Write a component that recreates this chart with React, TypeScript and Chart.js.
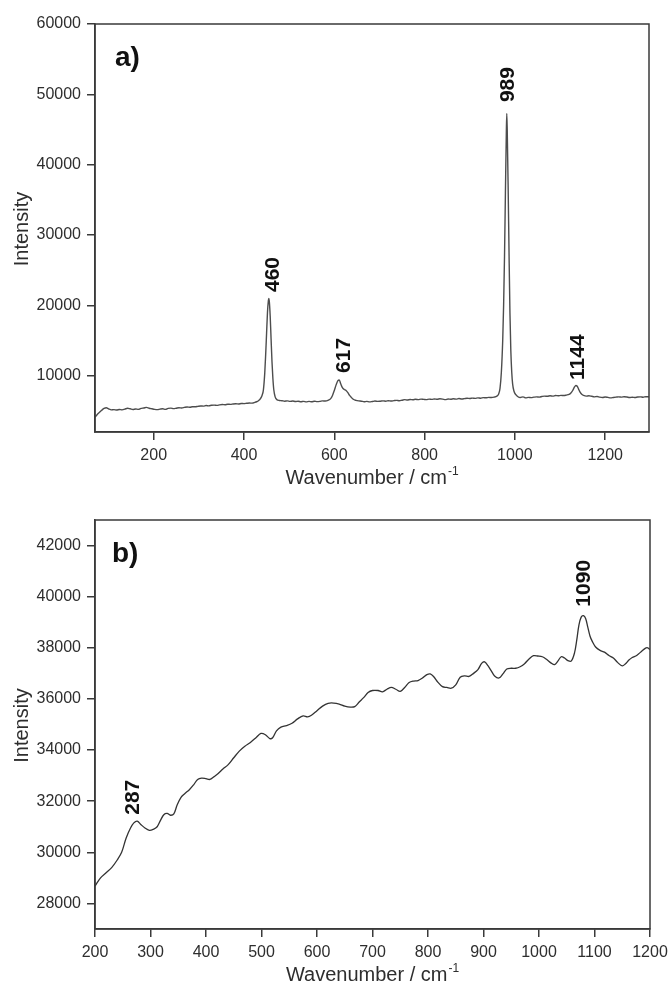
import React, { useEffect, useRef } from "react";
import { Chart, registerables } from "chart.js";

Chart.register(...registerables);

const FONT = "'Liberation Sans', Arial, Helvetica, sans-serif";
const AXIS = "#3a3a3a";
const TEXT = "#2e2e2e";

// ---------------- Panel a ----------------
const waveA = [
  70, 75, 80, 85, 90, 95, 100, 106, 112, 118, 124, 130, 136, 142, 148, 154, 160, 166, 172, 178,
  184, 190, 196, 202, 208, 214, 220, 226, 232, 238, 244, 250, 256, 262, 268, 274, 280, 286, 292, 298,
  304, 310, 316, 322, 328, 334, 340, 346, 352, 358, 364, 370, 376, 382, 388, 394, 400, 406, 412, 418,
  424, 428, 432, 436, 440, 443, 446, 448, 450, 452, 454, 455, 456, 458, 460, 462, 464, 466, 469, 473,
  478, 484, 490, 496, 502, 508, 514, 520, 526, 532, 538, 544, 550, 556, 562, 568, 574, 580, 586, 592, 596,
  600, 604, 608, 611, 614, 618, 622, 626, 630, 634, 638, 642, 648, 654, 660, 666, 672, 678, 684, 690,
  696, 702, 708, 714, 720, 726, 732, 738, 744, 750, 756, 762, 768, 774, 780, 786, 792, 798, 804, 810,
  816, 822, 828, 834, 840, 846, 852, 858, 864, 870, 876, 882, 888, 894, 900, 906, 912, 918, 924, 930,
  936, 942, 948, 954, 960, 964, 967, 970, 973, 975, 977, 979, 981, 982, 983, 985, 987, 989, 991, 993,
  995, 998, 1002, 1006, 1012, 1018, 1024, 1030, 1036, 1042, 1048, 1054, 1060, 1066, 1072, 1078, 1084, 1090, 1096, 1102,
  1108, 1114, 1120, 1124, 1128, 1132, 1135, 1138, 1141, 1144, 1148, 1152, 1158, 1164, 1170, 1176, 1182, 1188, 1194, 1200,
  1206, 1212, 1218, 1224, 1230, 1236, 1242, 1248, 1254, 1260, 1266, 1272, 1278, 1284, 1290, 1297,
];
const intA = [
  4100, 4500, 4800, 5100, 5350, 5450, 5300, 5150, 5180, 5120, 5200, 5150, 5250, 5380, 5300, 5200, 5280, 5220, 5350, 5420,
  5500, 5380, 5300, 5220, 5180, 5250, 5300, 5220, 5350, 5400, 5320, 5380, 5450, 5420, 5500, 5560, 5520, 5600, 5580, 5650,
  5700, 5680, 5760, 5720, 5800, 5820, 5780, 5860, 5900, 5880, 5950, 5920, 5990, 6020, 5980, 6060, 6040, 6080, 6120, 6100,
  6200, 6300, 6450, 6700, 7200, 8000, 10400, 13000, 16000, 19000, 20700, 21000, 20600, 18500, 15200, 12000, 9600, 8000, 7000, 6600,
  6480, 6450, 6380, 6420, 6350, 6400, 6330, 6380, 6300, 6360, 6280, 6350, 6300, 6380, 6320, 6350, 6420, 6400, 6500, 6750, 7200,
  7900, 8700, 9300, 9400, 8900, 8300, 8050, 7900, 7600, 7200, 6900, 6650, 6500, 6420, 6380, 6300, 6350, 6280, 6330, 6400,
  6350, 6380, 6420, 6380, 6450, 6400, 6460, 6500, 6440, 6520, 6600, 6550, 6620, 6580, 6650, 6600, 6680, 6640, 6600, 6680,
  6640, 6700, 6650, 6720, 6680, 6600, 6700, 6660, 6720, 6680, 6760, 6700, 6740, 6800, 6760, 6820, 6780, 6850, 6800, 6880,
  6860, 6920, 6900, 6960, 7100, 7400, 8200, 10500, 15000, 20000, 27000, 36000, 44500, 47300, 45000, 37000, 27500, 19000, 13500, 10500,
  8800, 7800, 7300, 7050, 6900, 7000, 6850, 6920, 6880, 6950, 7000, 6960, 7050, 7100, 7080, 7150, 7100, 7180, 7150, 7200,
  7180, 7250, 7350, 7550, 7900, 8400, 8600, 8500, 8100, 7700, 7350, 7200, 7100, 7150, 7080, 7000, 7050, 6950, 6900, 6980,
  6920, 6850, 6900, 6950, 7000, 6960, 7020, 6980, 6900, 6950, 6900, 6980, 7000, 6950, 7020, 7000,
];
const xTicksA = [200, 400, 600, 800, 1000, 1200];
const yTicksA = [10000, 20000, 30000, 40000, 50000, 60000];
const peakTextA = ["460", "617", "989", "1144"];
const peakXA = [463, 619, 984, 1138];
const peakYA = [21900, 10400, 48900, 9400];

// ---------------- Panel b ----------------
const waveB = [
  200, 210, 220, 230, 240, 248, 256, 264, 270, 276, 282, 290, 298, 305, 312, 318, 324, 330, 336, 342,
  348, 355, 362, 370, 378, 385, 392, 400, 407, 414, 422, 430, 440, 450, 460, 470, 480, 490, 499, 507,
  515, 520, 527, 535, 545, 555, 565, 575, 583, 590, 600, 610, 620, 630, 640, 650, 660, 668, 676, 684,
  692, 700, 710, 718, 726, 734, 742, 750, 758, 766, 774, 782, 790, 798, 804, 810, 818, 826, 834, 842,
  850, 858, 866, 874, 882, 890, 897, 902, 908, 914, 920, 928, 935, 942, 950, 958, 966, 974, 982, 990,
  998, 1006, 1014, 1022, 1028, 1034, 1040, 1046, 1052, 1058, 1064, 1068, 1072, 1076, 1080, 1084, 1088, 1092, 1096, 1102,
  1110, 1118, 1126, 1134, 1142, 1150, 1156, 1162, 1168, 1176, 1184, 1192, 1196, 1200,
];
const intB = [
  28680, 29000, 29200, 29400, 29700, 30000, 30550, 30950, 31150, 31220, 31100, 30950, 30860, 30900, 31000, 31250, 31470, 31520, 31450, 31500,
  31850, 32150, 32300, 32450, 32650, 32850, 32900, 32880, 32850, 32950, 33080, 33250, 33430, 33700, 33960, 34150, 34300, 34480, 34650, 34600,
  34450, 34480, 34750, 34900, 34960, 35050, 35220, 35340, 35300, 35360, 35540, 35720, 35830, 35840, 35800, 35720, 35680, 35700, 35880, 36050,
  36250, 36330, 36330, 36280, 36380, 36450, 36380, 36300, 36450, 36640, 36700, 36720, 36820, 36950, 36980, 36880, 36650, 36480, 36450, 36420,
  36550, 36850, 36900, 36880, 37000, 37150, 37400, 37450, 37300, 37100, 36900, 36820, 36980, 37170, 37200, 37200, 37260, 37380, 37560, 37690,
  37680, 37650, 37540, 37400, 37340, 37480, 37650, 37600, 37500, 37480, 37800, 38300, 38900, 39200, 39260, 39150, 38800, 38450, 38250, 38030,
  37900, 37830, 37700, 37600, 37420, 37290, 37380, 37520, 37620, 37700, 37850, 37990, 38000, 37930,
];
const xTicksB = [200, 300, 400, 500, 600, 700, 800, 900, 1000, 1100, 1200];
const yTicksB = [28000, 30000, 32000, 34000, 36000, 38000, 40000, 42000];
const peakTextB = ["287", "1090"];
const peakXB = [267, 1079];
const peakYB = [31470, 39610];

type PanelCfg = {
  xs: number[];
  ys: number[];
  xMin: number;
  xMax: number;
  yMin: number;
  yMax: number;
  xTicks: number[];
  yTicks: number[];
  peakText: string[];
  peakX: number[];
  peakY: number[];
  letter: string;
  letterDx: number;
  width: number;
  height: number;
  padTop: number;
  padRight: number;
  xAxisH: number;
  lineColor: string;
  lineWidth: number;
  monotone: boolean;
  tension: number;
};

function makeDecor(cfg: PanelCfg) {
  return {
    id: "decor",
    afterDraw(chart: any) {
      const { ctx, chartArea: ca, scales } = chart;
      ctx.save();
      // frame
      ctx.strokeStyle = AXIS;
      ctx.lineWidth = 1.5;
      ctx.strokeRect(ca.left, ca.top, ca.right - ca.left, ca.bottom - ca.top);

      // panel letter
      ctx.fillStyle = "#111";
      ctx.font = `bold 28px ${FONT}`;
      ctx.textAlign = "left";
      ctx.textBaseline = "alphabetic";
      ctx.fillText(cfg.letter, ca.left + cfg.letterDx, ca.top + 42);

      // peak labels (rotated)
      ctx.font = `bold 21px ${FONT}`;
      ctx.fillStyle = "#111";
      for (let i = 0; i < cfg.peakText.length; i++) {
        const px = scales.x.getPixelForValue(cfg.peakX[i]);
        const py = scales.y.getPixelForValue(cfg.peakY[i]);
        ctx.save();
        ctx.translate(px, py);
        ctx.rotate(-Math.PI / 2);
        ctx.textAlign = "left";
        ctx.textBaseline = "middle";
        ctx.fillText(cfg.peakText[i], 0, 1);
        ctx.restore();
      }

      // y title
      ctx.fillStyle = TEXT;
      ctx.font = `20px ${FONT}`;
      ctx.save();
      ctx.translate(28, (ca.top + ca.bottom) / 2 + 1);
      ctx.rotate(-Math.PI / 2);
      ctx.textAlign = "center";
      ctx.textBaseline = "alphabetic";
      ctx.fillText("Intensity", 0, 0);
      ctx.restore();

      // x title with superscript
      const main = "Wavenumber / cm";
      const sup = "-1";
      ctx.font = `20px ${FONT}`;
      const w1 = ctx.measureText(main).width;
      ctx.font = `12px ${FONT}`;
      const w2 = ctx.measureText(sup).width;
      const cx = (ca.left + ca.right) / 2;
      const start = cx - (w1 + w2 + 1) / 2;
      const base = ca.bottom + 52;
      ctx.textAlign = "left";
      ctx.textBaseline = "alphabetic";
      ctx.font = `20px ${FONT}`;
      ctx.fillText(main, start, base);
      ctx.font = `12px ${FONT}`;
      ctx.fillText(sup, start + w1 + 1, base - 9);
      ctx.restore();
    },
  };
}

function Panel({ cfg }: { cfg: PanelCfg }) {
  const ref = useRef<HTMLCanvasElement | null>(null);
  useEffect(() => {
    if (!ref.current) return;
    const tickFont = { family: FONT, size: 16 };
    const chart = new Chart(ref.current, {
      type: "line",
      data: {
        datasets: [
          {
            data: cfg.xs.map((x, i) => ({ x, y: cfg.ys[i] })),
            borderColor: cfg.lineColor,
            borderWidth: cfg.lineWidth,
            pointRadius: 0,
            tension: cfg.tension,
            cubicInterpolationMode: cfg.monotone ? "monotone" : "default",
            fill: false,
          },
        ],
      },
      options: {
        responsive: false,
        animation: false,
        events: [],
        layout: { padding: { top: cfg.padTop, right: cfg.padRight, left: 0, bottom: 0 } },
        plugins: {
          legend: { display: false },
          tooltip: { enabled: false },
          title: { display: false },
        },
        scales: {
          x: {
            type: "linear",
            min: cfg.xMin,
            max: cfg.xMax,
            afterBuildTicks: (s: any) => {
              s.ticks = cfg.xTicks.map((v) => ({ value: v }));
            },
            afterFit: (s: any) => {
              s.height = cfg.xAxisH;
              s.paddingLeft = 0;
              s.paddingRight = 0;
            },
            grid: {
              drawOnChartArea: false,
              drawTicks: true,
              tickLength: 8,
              color: AXIS,
              lineWidth: 1.5,
            },
            border: { display: true, color: AXIS, width: 1.5 },
            ticks: {
              font: tickFont,
              color: TEXT,
              padding: 6,
              maxRotation: 0,
              autoSkip: false,
              callback: (v: any) => String(v),
            },
          },
          y: {
            type: "linear",
            min: cfg.yMin,
            max: cfg.yMax,
            afterBuildTicks: (s: any) => {
              s.ticks = cfg.yTicks.map((v) => ({ value: v }));
            },
            afterFit: (s: any) => {
              s.width = 95;
              s.paddingTop = 0;
              s.paddingBottom = 0;
            },
            grid: {
              drawOnChartArea: false,
              drawTicks: true,
              tickLength: 8,
              color: AXIS,
              lineWidth: 1.5,
            },
            border: { display: true, color: AXIS, width: 1.5 },
            ticks: {
              font: tickFont,
              color: TEXT,
              padding: 6,
              autoSkip: false,
              callback: (v: any) => String(v),
            },
          },
        },
      },
      plugins: [makeDecor(cfg)],
    } as any);
    return () => chart.destroy();
  }, [cfg]);
  return (
    <canvas
      ref={ref}
      width={cfg.width}
      height={cfg.height}
      style={{ display: "block", width: cfg.width, height: cfg.height }}
    />
  );
}

const cfgA: PanelCfg = {
  xs: waveA,
  ys: intA,
  xMin: 70,
  xMax: 1297,
  yMin: 2000,
  yMax: 60000,
  xTicks: xTicksA,
  yTicks: yTicksA,
  peakText: peakTextA,
  peakX: peakXA,
  peakY: peakYA,
  letter: "a)",
  letterDx: 20,
  width: 669,
  height: 490,
  padTop: 24,
  padRight: 20,
  xAxisH: 58,
  lineColor: "#4d4d4d",
  lineWidth: 1.4,
  monotone: true,
  tension: 0,
};

const cfgB: PanelCfg = {
  xs: waveB,
  ys: intB,
  xMin: 200,
  xMax: 1200,
  yMin: 27000,
  yMax: 43000,
  xTicks: xTicksB,
  yTicks: yTicksB,
  peakText: peakTextB,
  peakX: peakXB,
  peakY: peakYB,
  letter: "b)",
  letterDx: 17,
  width: 669,
  height: 494,
  padTop: 30,
  padRight: 19,
  xAxisH: 55,
  lineColor: "#333333",
  lineWidth: 1.3,
  monotone: false,
  tension: 0.35,
};

export default function App() {
  return (
    <div
      style={{
        position: "absolute",
        left: 0,
        top: 0,
        width: 669,
        height: 984,
        background: "#ffffff",
        overflow: "hidden",
      }}
    >
      <Panel cfg={cfgA} />
      <Panel cfg={cfgB} />
    </div>
  );
}
